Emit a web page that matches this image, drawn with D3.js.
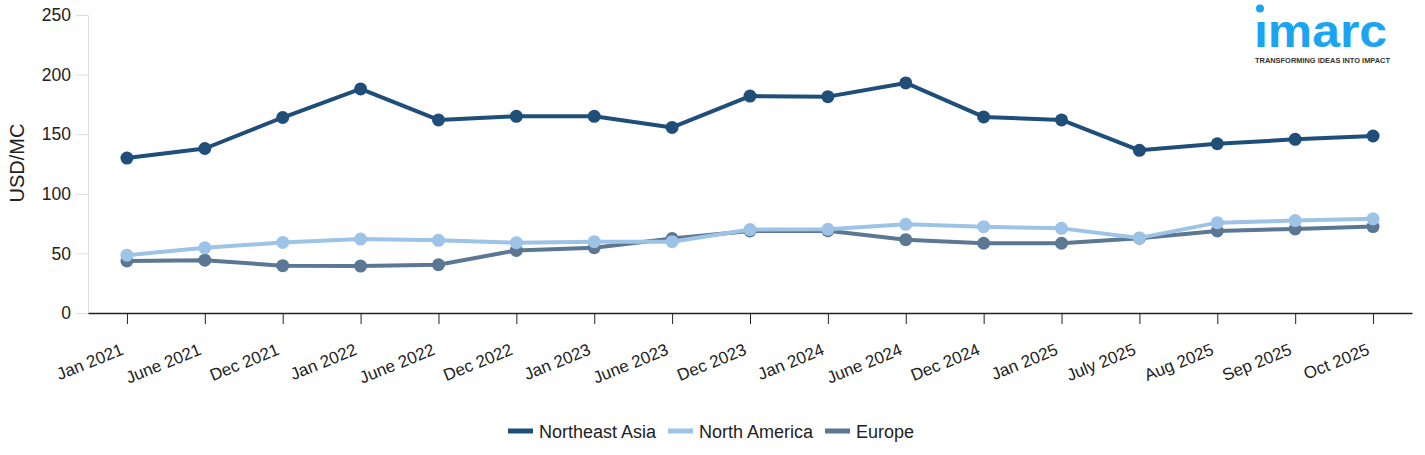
<!DOCTYPE html>
<html><head><meta charset="utf-8">
<script src="https://cdn.jsdelivr.net/npm/d3@7/dist/d3.min.js"></script>
<style>body{margin:0;background:#fff;font-family:"Liberation Sans",Arial,sans-serif;}</style>
</head><body>
<svg id="chart" width="1425" height="455"></svg>
<script>
const categories = ["Jan 2021","June 2021","Dec 2021","Jan 2022","June 2022","Dec 2022","Jan 2023","June 2023","Dec 2023","Jan 2024","June 2024","Dec 2024","Jan 2025","July 2025","Aug 2025","Sep 2025","Oct 2025"];
const northeastAsia = [130,138,164,188,162,165,165,155.7,182,181.5,193,164.5,162,136.5,142,145.7,148.5];
const northAmerica = [48.5,54.7,59.2,62,61,59,59.8,59.8,70,70.2,74.4,72.4,71,63,75.8,77.5,79];
const europe = [43.7,44.3,39.7,39.4,40.5,52.5,54.8,62.5,68.8,69,61.5,58.5,58.5,62.8,68.8,70.5,72.5];
const yTicks = [0,50,100,150,200,250];

const FONT = "'Liberation Sans', Arial, sans-serif";
const series = [
  {name:"Northeast Asia", values:northeastAsia, color:"#1f4e79"},
  {name:"North America", values:northAmerica, color:"#9dc3e6"},
  {name:"Europe", values:europe, color:"#5b7793"}
];
const drawOrder = [series[0], series[2], series[1]];

const svg = d3.select("#chart");
const x = d3.scalePoint().domain(categories).range([88,1412]).padding(0.5);
const y = d3.scaleLinear().domain([0,250]).range([313,15]);

// y axis
const ya = svg.append("g").attr("transform","translate(88,0)")
  .call(d3.axisLeft(y).tickValues(yTicks).tickSize(12).tickPadding(5));
ya.select(".domain").attr("stroke","#dddddd");
ya.selectAll(".tick line").attr("stroke","#dddddd");
ya.selectAll(".tick text").attr("font-size","17.5px").attr("fill","#222").attr("font-family",FONT);

svg.append("text").attr("transform","translate(24,163) rotate(-90)")
  .attr("text-anchor","middle").attr("font-size","20px").attr("fill","#222")
  .attr("font-family",FONT).text("USD/MC");

// x axis
const xa = svg.append("g").attr("transform","translate(0,313)")
  .call(d3.axisBottom(x).tickSize(11).tickSizeOuter(0));
xa.select(".domain").attr("stroke","#222").attr("stroke-width",1.5);
xa.selectAll(".tick line").attr("stroke","#222");
xa.selectAll(".tick text").attr("font-size","17px").attr("fill","#222").attr("font-family",FONT)
  .attr("text-anchor","end").attr("x",0).attr("y",0).attr("dy",0)
  .attr("transform","translate(-3,41) rotate(-22)");

// lines
const line = d3.line().x((d,i)=>x(categories[i])).y(d=>y(d));
drawOrder.forEach(s=>{
  svg.append("path").datum(s.values).attr("d",line)
    .attr("fill","none").attr("stroke",s.color).attr("stroke-width",4)
    .attr("stroke-linejoin","round");
  svg.append("g").selectAll("circle").data(s.values).join("circle")
    .attr("cx",(d,i)=>x(categories[i])).attr("cy",d=>y(d)).attr("r",6.5)
    .attr("fill",s.color);
});

// legend
const legend = svg.append("g");
const items = [{s:series[0],x:508},{s:series[1],x:668},{s:series[2],x:825}];
items.forEach(it=>{
  legend.append("line").attr("x1",it.x).attr("x2",it.x+25).attr("y1",431).attr("y2",431)
    .attr("stroke",it.s.color).attr("stroke-width",5);
  legend.append("text").attr("x",it.x+31).attr("y",437.5).attr("font-size","18px")
    .attr("fill","#222").attr("font-family",FONT).text(it.s.name);
});

// logo
const logo = svg.append("g");
logo.append("circle").attr("cx",1260).attr("cy",8.5).attr("r",4).attr("fill","#1ba4f0");
logo.append("text").attr("x",1254).attr("y",46.5).attr("font-size","46px").attr("font-weight","bold")
  .attr("font-family",FONT).attr("fill","#1ba4f0")
  .attr("textLength",133).attr("lengthAdjust","spacingAndGlyphs").text("ımarc");
logo.append("text").attr("x",1255).attr("y",62.5).attr("font-size","6.5px").attr("font-weight","bold")
  .attr("font-family",FONT).attr("fill","#333").attr("textLength",135).attr("lengthAdjust","spacingAndGlyphs")
  .text("TRANSFORMING IDEAS INTO IMPACT");
</script>
</body></html>
